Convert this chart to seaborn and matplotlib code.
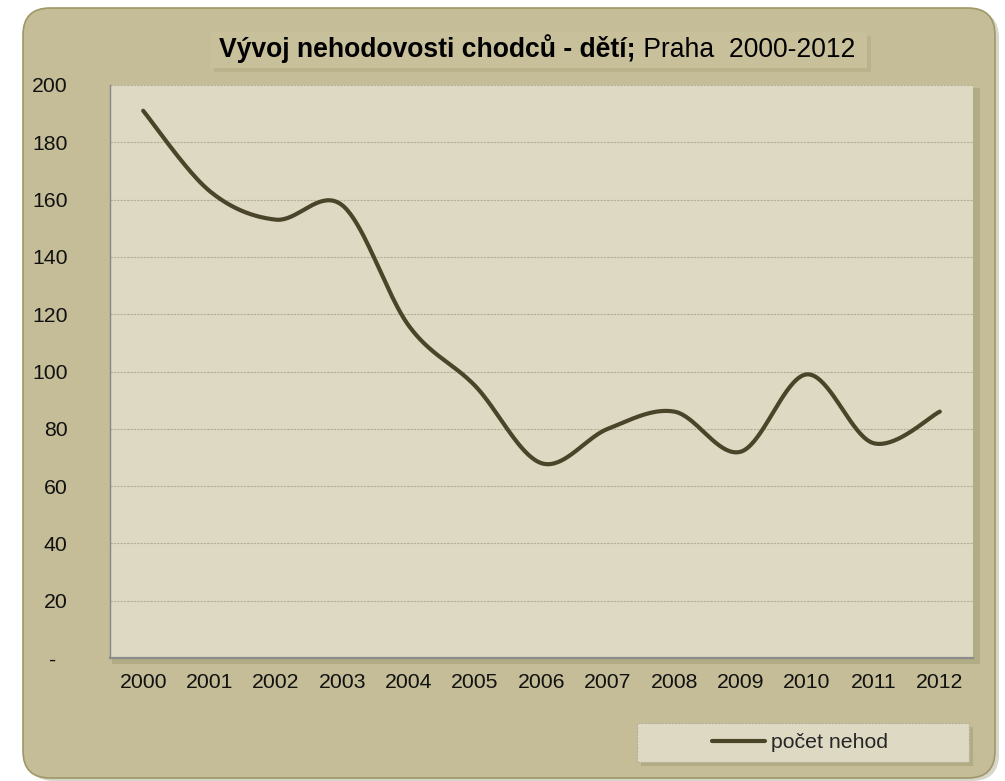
import numpy as np
import matplotlib
matplotlib.use("Agg")
import matplotlib.pyplot as plt
import seaborn as sns
from matplotlib.patches import FancyBboxPatch, Rectangle

# data
roky = ["2000", "2001", "2002", "2003", "2004", "2005", "2006",
        "2007", "2008", "2009", "2010", "2011", "2012"]
pocet_nehod = [191, 163, 153, 158, 116, 95, 68, 80, 86, 72, 99, 75, 86]
y_ticks = [0, 20, 40, 60, 80, 100, 120, 140, 160, 180, 200]
y_tick_labels = ["-  ", "20", "40", "60", "80", "100", "120", "140", "160", "180", "200"]
title_bold = "Vývoj nehodovosti chodců - dětí;"
title_rest = " Praha  2000-2012"
legend_label = "počet nehod"

BG = "#C4BD97"
PLOT_BG = "#DDD9C3"
LINE = "#4A4429"
W, H = 1005, 781
FS = 15.3


def smooth_curve(values, steps=40):
    # Excel-like smoothed line (Catmull-Rom as cubic Bezier)
    p = np.column_stack([np.arange(len(values)), values]).astype(float)
    pts = []
    for i in range(len(p) - 1):
        p0 = p[i - 1] if i > 0 else p[i]
        p1, p2 = p[i], p[i + 1]
        p3 = p[i + 2] if i + 2 < len(p) else p[i + 1]
        c1 = p1 + (p2 - p0) / 6.0
        c2 = p2 - (p3 - p1) / 6.0
        t = np.linspace(0, 1, steps, endpoint=(i == len(p) - 2))[:, None]
        b = ((1 - t) ** 3) * p1 + 3 * ((1 - t) ** 2) * t * c1 + 3 * (1 - t) * t ** 2 * c2 + t ** 3 * p2
        pts.append(b)
    pts = np.vstack(pts)
    return pts[:, 0], pts[:, 1]


def px_box(x0, y0, x1, y1):
    # pixel box (top-left origin) -> inches for dpi_scale_trans
    return x0 / 100, (H - y1) / 100, (x1 - x0) / 100, (y1 - y0) / 100


sns.set_theme(style="white")
plt.rcParams["font.family"] = ["Liberation Sans", "DejaVu Sans"]

fig = plt.figure(figsize=(W / 100, H / 100), dpi=100)
fig.patch.set_facecolor("white")

# outer rounded background with shadow
x, y, w, h = px_box(23, 8, 995, 778)
fig.patches.append(FancyBboxPatch((x + 0.04, y - 0.03), w, h, boxstyle="round,pad=0,rounding_size=0.27",
                                  transform=fig.dpi_scale_trans, facecolor="#8E8A6A", edgecolor="none",
                                  alpha=0.35, zorder=-6))
fig.patches.append(FancyBboxPatch((x, y), w, h, boxstyle="round,pad=0,rounding_size=0.27",
                                  transform=fig.dpi_scale_trans, facecolor=BG, edgecolor="#9E9868",
                                  linewidth=1.2, zorder=-5))

# plot area shadow
x, y, w, h = px_box(112, 88, 980, 664)
fig.patches.append(Rectangle((x, y), w, h, transform=fig.dpi_scale_trans,
                             facecolor="#A29C72", edgecolor="none", alpha=0.5, zorder=-4))

ax = fig.add_axes([110 / W, 1 - 658 / H, (973 - 110) / W, (658 - 85) / H])
ax.set_facecolor(PLOT_BG)

xs, ys = smooth_curve(pocet_nehod)
sns.lineplot(x=xs, y=ys, ax=ax, color=LINE, linewidth=3.0, sort=False,
             estimator=None, label=legend_label)

ax.set_xlim(-0.5, len(roky) - 0.5)
ax.set_ylim(0, 200)
ax.set_xticks(range(len(roky)))
ax.set_xticklabels(roky)
ax.set_xticks(np.arange(-0.5, len(roky)), minor=True)
ax.set_yticks(y_ticks)
ax.set_yticklabels(y_tick_labels)

ax.tick_params(axis="x", which="major", length=0, pad=11, labelsize=FS, labelcolor="#111111")
ax.tick_params(axis="x", which="minor", length=4, width=1.5, color="#8C8C8C", direction="out")
ax.tick_params(axis="y", which="major", length=4.5, width=1, color="#868686", pad=26,
               labelsize=FS, labelcolor="#111111", direction="out")

ax.grid(axis="y", color="#B3AE94", linestyle=(0, (2, 1)), linewidth=0.8)
ax.grid(axis="x", visible=False)
for s in ["top", "right"]:
    ax.spines[s].set_visible(False)
ax.spines["left"].set_color("#868686")
ax.spines["left"].set_linewidth(1.0)
ax.spines["bottom"].set_color("#8C8C8C")
ax.spines["bottom"].set_linewidth(1.6)
ax.set_xlabel("")
ax.set_ylabel("")
handles, labels = ax.get_legend_handles_labels()
ax.get_legend().remove()

# title box
x, y, w, h = px_box(210, 32, 867, 68)
fig.patches.append(FancyBboxPatch((x + 0.04, y - 0.04), w, h, boxstyle="square,pad=0",
                                  transform=fig.dpi_scale_trans, facecolor="#A9A37A",
                                  edgecolor="none", alpha=0.4, zorder=2))
fig.patches.append(FancyBboxPatch((x, y), w, h, boxstyle="square,pad=0",
                                  transform=fig.dpi_scale_trans, facecolor="#C7C09B",
                                  edgecolor="none", zorder=3))
t1 = fig.text(219 / 100, (H - 57) / 100, title_bold, transform=fig.dpi_scale_trans,
              fontsize=19.1, fontweight="bold", color="black", va="baseline", ha="left", zorder=4)
fig.canvas.draw()
bb = t1.get_window_extent(renderer=fig.canvas.get_renderer())
fig.text(bb.x1 / 100, (H - 57) / 100, title_rest, transform=fig.dpi_scale_trans,
         fontsize=19.1, color="black", va="baseline", ha="left", zorder=4)

# legend box
x, y, w, h = px_box(637, 723, 969, 762)
fig.patches.append(FancyBboxPatch((x + 0.04, y - 0.04), w, h, boxstyle="square,pad=0",
                                  transform=fig.dpi_scale_trans, facecolor="#A29C72",
                                  edgecolor="none", alpha=0.5, zorder=2))
fig.patches.append(FancyBboxPatch((x, y), w, h, boxstyle="square,pad=0",
                                  transform=fig.dpi_scale_trans, facecolor=PLOT_BG,
                                  edgecolor="#B3AE94", linestyle=(0, (2, 1)), linewidth=0.8, zorder=3))
leg = fig.legend(handles, labels, loc="center", bbox_to_anchor=((x + w / 2 - 0.03), (y + h / 2)),
                 bbox_transform=fig.dpi_scale_trans, frameon=False, fontsize=FS,
                 handlelength=2.5, handletextpad=0.3, borderpad=0)
leg.set_zorder(5)
for line in leg.get_lines():
    line.set_linewidth(3.0)

fig.savefig("out.png", dpi=100, facecolor="white")
